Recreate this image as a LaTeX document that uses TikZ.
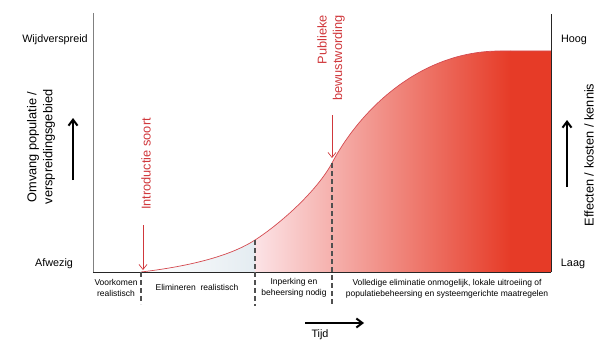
\documentclass[tikz,border=0pt]{standalone}
\usepackage{fontspec}
\setmainfont{Liberation Sans}
\usetikzlibrary{positioning,arrows.meta}

\definecolor{redline}{HTML}{D44A50}
\definecolor{redtext}{HTML}{D0383C}
\definecolor{redfull}{HTML}{E63B27}
\definecolor{pinklight}{HTML}{FCE3E6}
\definecolor{greyblue}{HTML}{E4ECF1}
\definecolor{dashgrey}{HTML}{505050}

\tikzset{
  axislabel/.style={font=\fontsize{10.8}{12}\selectfont, inner sep=1pt},
  sidelabel/.style={font=\fontsize{12.8}{16}\selectfont, rotate=90, align=center, inner sep=1pt},
  phaselabel/.style={font=\fontsize{8.5}{10.5}\selectfont, align=center, inner sep=1pt},
  eventlabel/.style={font=\fontsize{12.8}{15.5}\selectfont, text=redtext, rotate=90, inner sep=1pt},
  phaseline/.style={dashgrey, line width=1.3pt, dash pattern=on 5pt off 3pt},
  bigarrow/.style={-{Straight Barb[length=6pt,width=9pt]}, line width=2pt},
  redarrow/.style={redtext, line width=0.7pt, -{Straight Barb[length=5pt,width=8pt]}}
}

\begin{document}
\begin{tikzpicture}[x=1pt,y=1pt]
  \useasboundingbox (0,0) rectangle (595,341);

  % corners of the chart
  \coordinate (o) at (93,69);
  \coordinate (lt) at (93,328);
  \coordinate (rb) at (551,69);
  \coordinate (rt) at (551,327);

  % points on the curve
  \coordinate (c0) at (141,69);
  \coordinate (c1) at (255,101);
  \coordinate (c2) at (332,178);
  \coordinate (c3) at (500,290);
  \coordinate (c4) at (551,290);

  % filled area under the curve
  \begin{scope}
    \clip (c0) .. controls (200,76) and (235,88) .. (c1)
      .. controls (280,117) and (317,150) .. (c2)
      .. controls (360,231) and (420,290) .. (c3) -- (c4) -- (rb) -- cycle;
    \shade[left color=white, right color=greyblue] (141,60) rectangle (255,300);
    \shade[left color=pinklight, right color=redfull] (255,60) rectangle (511,300);
    \fill[redfull] (510,60) rectangle (552,300);
  \end{scope}
  \draw[redline, line width=0.7pt] (c0) .. controls (200,76) and (235,88) .. (c1)
      .. controls (280,117) and (317,150) .. (c2)
      .. controls (360,231) and (420,290) .. (c3) -- (c4);

  % axes
  \draw[gray, line width=1pt] (lt) -- (o);
  \draw[black!85, line width=0.9pt] (o) -- (rb);
  \draw[black!85, line width=0.8pt] (rb) -- (rt);

  % phase borders
  \coordinate (d0) at (141,37);
  \coordinate (d1) at (255,35);
  \coordinate (d2) at (332,35);
  \draw[phaseline] (c0) -- (d0);
  \draw[phaseline] (c1) -- (d1);
  \draw[phaseline] (c2) -- (d2);

  % axis labels
  \draw node[axislabel] (wijd) at (55,301) {Wijdverspreid};
  \draw node[axislabel] (afw) at (54,77) {Afwezig};
  \draw node[axislabel] (hoog) at (574,301) {Hoog};
  \draw node[axislabel] (laag) at (573,77) {Laag};
  \draw node[sidelabel] (omvang) at (41,194) {Omvang populatie /\\verspreidingsgebied};
  \draw node[sidelabel] (effect) at (589,186) {Effecten / kosten / kennis};

  \coordinate (la0) at (73,161);
  \coordinate (la1) at (73,223);
  \draw[bigarrow] (la0) -- (la1);
  \coordinate (ra0) at (567,154);
  \coordinate (ra1) at (567,221);
  \draw[bigarrow] (ra0) -- (ra1);

  % events
  \draw node[eventlabel] (intro) at (146,177) {Introductie soort};
  \coordinate (ia0) at (143,116);
  \coordinate (ia1) at (143,71);
  \draw[redarrow] (ia0) -- (ia1);
  \draw node[eventlabel, align=right] (publiek) at (331,283) {Publieke\\bewustwording};
  \coordinate (pa0) at (332,226);
  \coordinate (pa1) at (332,183);
  \draw[redarrow] (pa0) -- (pa1);

  % phases
  \draw node[phaselabel] (voork) at (116,53) {Voorkomen\\realistisch};
  \draw node[phaselabel] (elim) at (197,54) {Elimineren\ \ realistisch};
  \draw node[phaselabel] (inperk) at (294,53) {Inperking en\\beheersing nodig};
  \draw node[phaselabel] (volled) at (447,52) {Volledige\ eliminatie\ onmogelijk,\ lokale\ uitroeiing of\\populatiebeheersing en systeemgerichte maatregelen};

  % time
  \coordinate (t0) at (305,18);
  \coordinate (t1) at (364,18);
  \draw[bigarrow] (t0) -- (t1);
  \draw node[axislabel] (tijd) at (320,6.5) {Tijd};
\end{tikzpicture}
\end{document}
